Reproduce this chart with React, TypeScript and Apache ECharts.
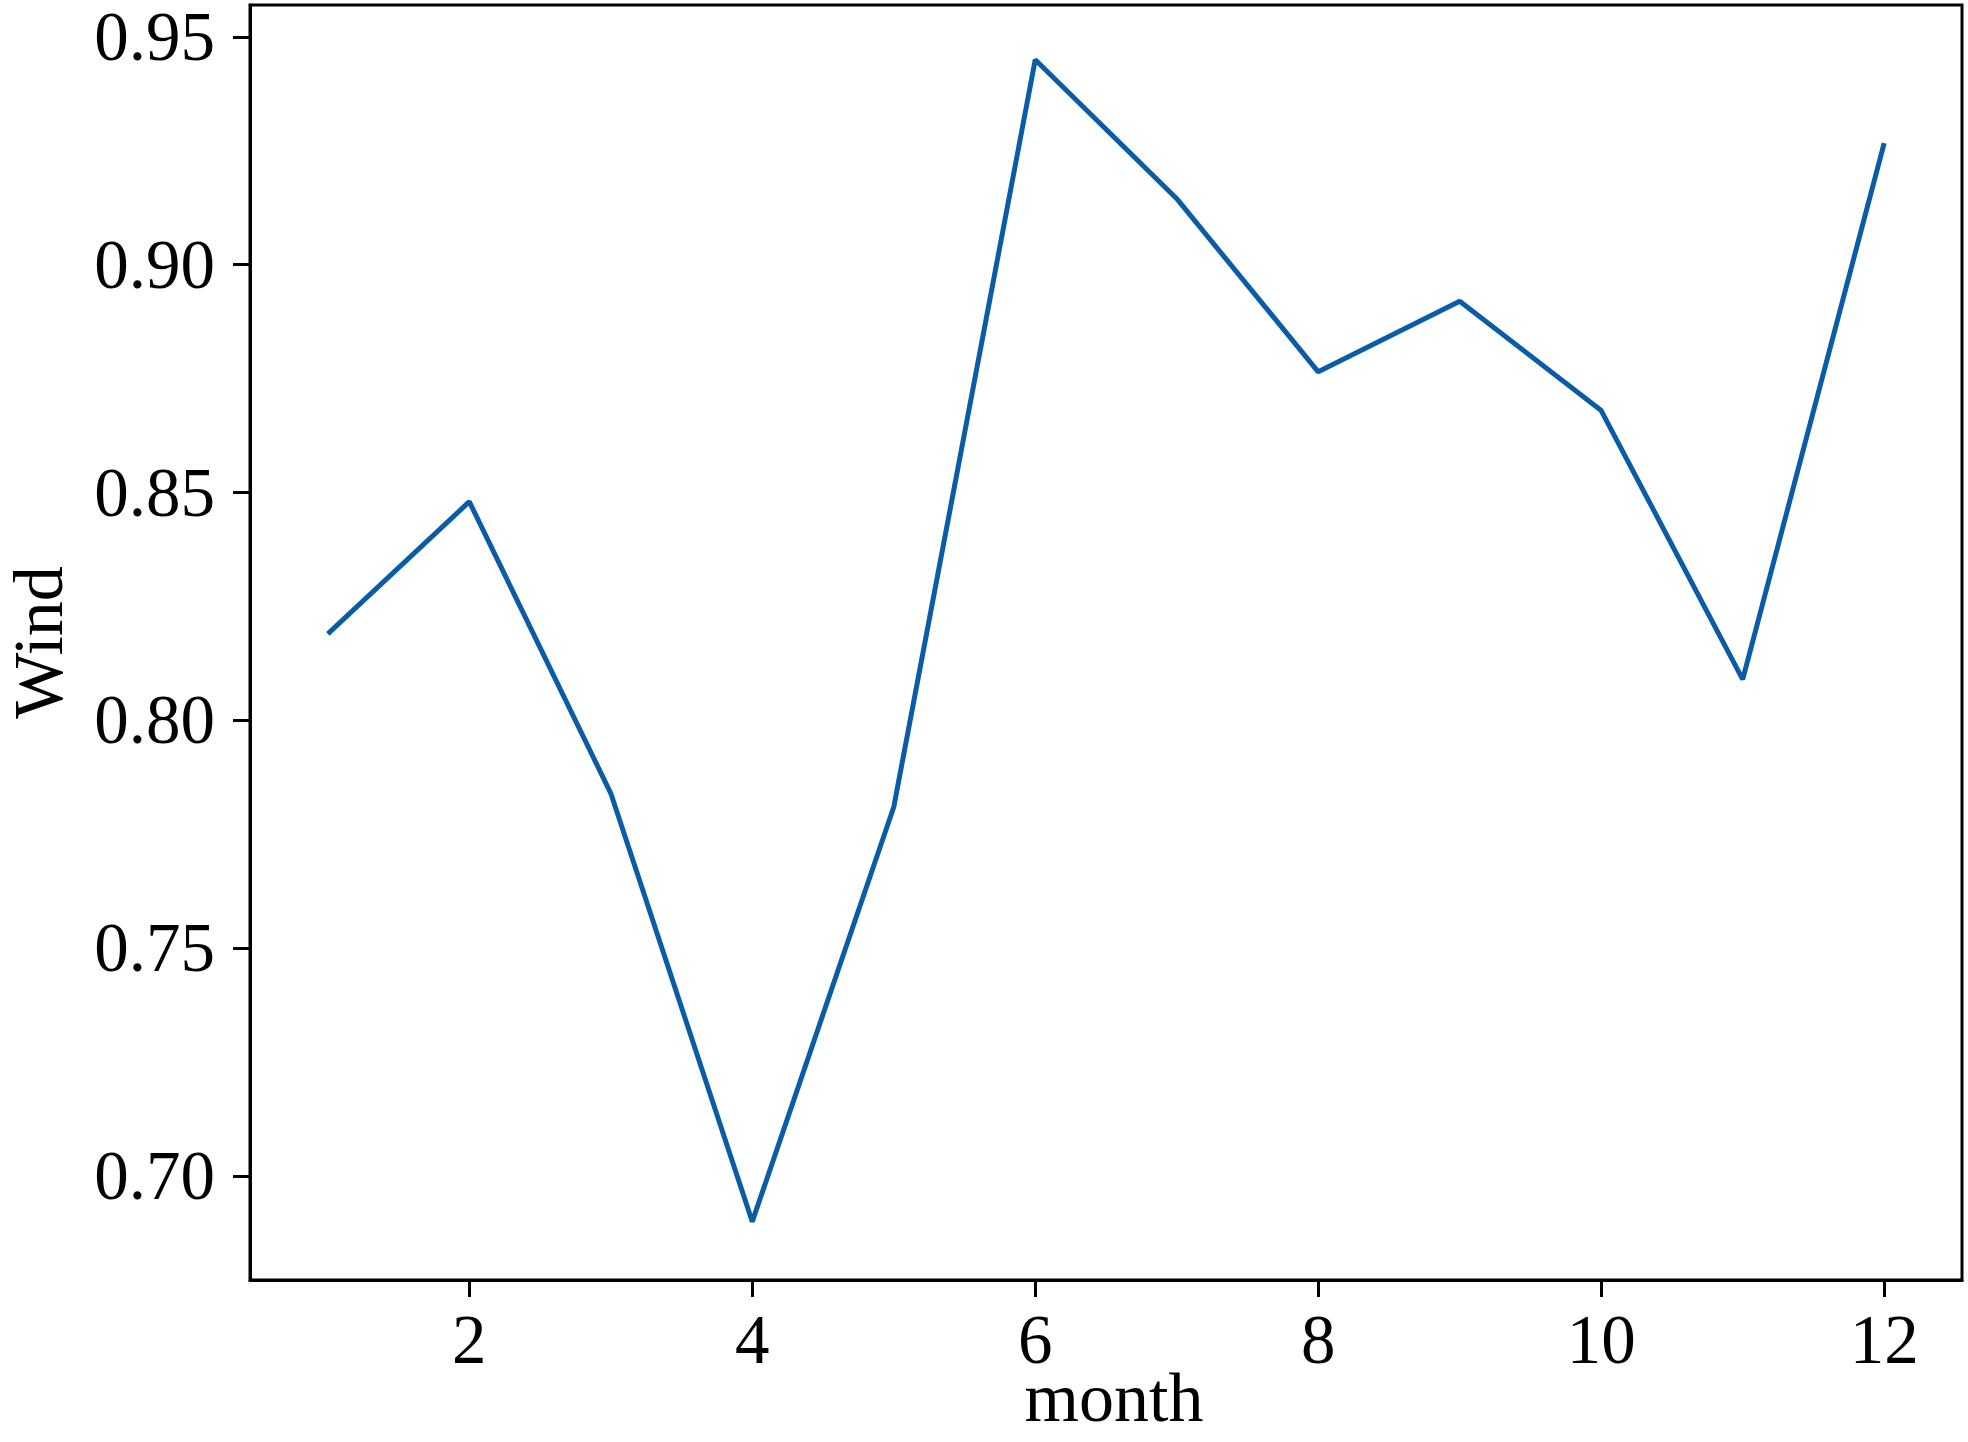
import React, { useEffect, useRef } from "react";
import * as echarts from "echarts";

const months = [1, 2, 3, 4, 5, 6, 7, 8, 9, 10, 11, 12];
const windValues = [0.819, 0.848, 0.784, 0.690, 0.781, 0.945, 0.9145, 0.8765, 0.892, 0.868, 0.809, 0.9267];
const xTicks = [2, 4, 6, 8, 10, 12];
const yTicks = [0.7, 0.75, 0.8, 0.85, 0.9, 0.95];

const FONT = "Liberation Serif";

export default function App() {
  const ref = useRef<HTMLDivElement>(null);
  useEffect(() => {
    if (!ref.current) return;
    const chart = echarts.init(ref.current, undefined, { renderer: "svg" });
    chart.setOption({
      animation: false,
      backgroundColor: "#ffffff",
      grid: {
        left: 250,
        right: 6,
        top: 5,
        bottom: 162,
        show: true,
        borderColor: "#000",
        borderWidth: 3,
        containLabel: false,
        outerBoundsMode: "none",
      },
      xAxis: {
        type: "value",
        min: 0.45,
        max: 12.55,
        name: "month",
        nameLocation: "middle",
        nameGap: 82,
        nameMoveOverlap: false,
        nameTextStyle: {
          fontFamily: FONT,
          fontSize: 70,
          color: "#000",
          padding: [0, 0, 0, 16],
        },
        axisLine: { show: true, lineStyle: { color: "#000", width: 3 } },
        axisTick: {
          show: true,
          length: 17,
          lineStyle: { color: "#000", width: 3 },
          customValues: xTicks,
        },
        axisLabel: {
          fontFamily: FONT,
          fontSize: 69,
          color: "#000",
          margin: 25,
          customValues: xTicks,
        },
        splitLine: { show: false },
      },
      yAxis: {
        type: "value",
        min: 0.6772,
        max: 0.957,
        name: "Wind",
        nameLocation: "middle",
        nameGap: 180,
        nameRotate: 90,
        nameMoveOverlap: false,
        nameTextStyle: { fontFamily: FONT, fontSize: 70, lineHeight: 64, color: "#000" },
        axisLine: { show: true, lineStyle: { color: "#000", width: 3 } },
        axisTick: {
          show: true,
          length: 17,
          lineStyle: { color: "#000", width: 3 },
          customValues: yTicks,
        },
        axisLabel: {
          fontFamily: FONT,
          fontSize: 69,
          color: "#000",
          margin: 35,
          customValues: yTicks,
          formatter: (v: number) => v.toFixed(2),
        },
        splitLine: { show: false },
      },
      series: [
        {
          type: "line",
          data: months.map((m, i) => [m, windValues[i]]),
          showSymbol: false,
          lineStyle: { color: "#0b5ca6", width: 5 },
          itemStyle: { color: "#0b5ca6" },
        },
      ],
    });
    return () => chart.dispose();
  }, []);
  return (
    <div
      ref={ref}
      style={{ position: "fixed", left: 0, top: 0, width: 1968, height: 1442, background: "#fff" }}
    />
  );
}
